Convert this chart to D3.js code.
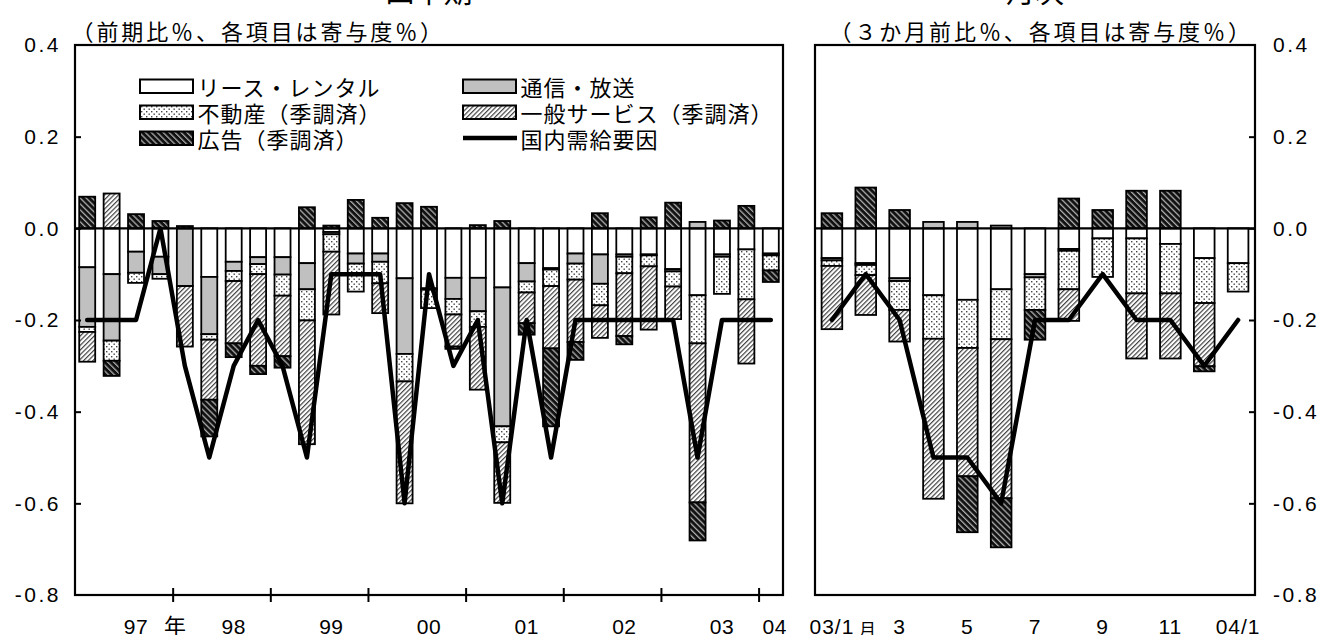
<!DOCTYPE html>
<html><head><meta charset="utf-8">
<script src="https://cdn.jsdelivr.net/npm/d3@7"></script>
<style>
body{margin:0;background:#fff;}
svg{display:block;}
text{font-family:"Noto Sans CJK JP","Noto Sans",sans-serif;fill:#000;}
</style></head><body>
<svg id="chart" width="1322" height="635"></svg>
<script>
// ---------- data ----------
const seriesKeys = ["lease","telecom","realestate","general","ads"];
const seriesNames = ["リース・レンタル","通信・放送","不動産（季調済）","一般サービス（季調済）","広告（季調済）"];
const lineName = "国内需給要因";

const quarterCats = ["97Q1","97Q2","97Q3","97Q4","98Q1","98Q2","98Q3","98Q4","99Q1","99Q2","99Q3","99Q4",
  "00Q1","00Q2","00Q3","00Q4","01Q1","01Q2","01Q3","01Q4","02Q1","02Q2","02Q3","02Q4","03Q1","03Q2","03Q3","03Q4","04Q1"];
const qLease      = [-0.085,-0.100,-0.051,-0.062, 0.000,-0.106,-0.073,-0.063,-0.063,-0.076,-0.008,-0.055,-0.055,-0.109,-0.131,-0.108,-0.108,-0.129,-0.076,-0.087,-0.055,-0.057,-0.057,-0.057,-0.089,-0.146,-0.057,-0.046,-0.055];
const qTelecom    = [-0.130,-0.145,-0.046,-0.038,-0.126,-0.125,-0.020,-0.015,-0.038,-0.057,-0.005,-0.022,-0.018,-0.165,-0.003,-0.046,-0.073,-0.303,-0.040,-0.003,-0.022,-0.064,-0.005,-0.002,-0.005, 0.014,-0.005, 0.000,-0.004];
const qRealEstate = [-0.011,-0.044,-0.022,-0.010, 0.000,-0.012,-0.022,-0.022,-0.046,-0.068,-0.038,-0.061,-0.047,-0.060,-0.040,-0.034,-0.034,-0.035,-0.024,-0.036,-0.035,-0.047,-0.036,-0.024,-0.033,-0.105,-0.081,-0.109,-0.033];
const qGeneral    = [-0.065, 0.076, 0.000, 0.000,-0.132,-0.131,-0.136,-0.200,-0.132,-0.270,-0.137, 0.000,-0.065,-0.266, 0.000,-0.070,-0.137,-0.132,-0.067,-0.136,-0.136,-0.071,-0.137,-0.138,-0.071,-0.347, 0.000,-0.140, 0.000];
const qAds        = [ 0.069,-0.033, 0.031, 0.016, 0.005,-0.080,-0.030,-0.018,-0.025, 0.046, 0.006, 0.062, 0.023, 0.055, 0.047,-0.005, 0.007, 0.016,-0.025,-0.170,-0.039, 0.033,-0.018, 0.024, 0.056,-0.083, 0.017, 0.049,-0.025];
const qLine       = [-0.2,-0.2,-0.2,0.0,-0.3,-0.5,-0.3,-0.2,-0.3,-0.5,-0.1,-0.1,-0.1,-0.6,-0.1,-0.3,-0.2,-0.6,-0.2,-0.5,-0.2,-0.2,-0.2,-0.2,-0.2,-0.5,-0.2,-0.2,-0.2];

const monthCats = ["03/1","03/2","03/3","03/4","03/5","03/6","03/7","03/8","03/9","03/10","03/11","03/12","04/1"];
const mLease      = [-0.065,-0.076,-0.109,-0.146,-0.156,-0.133,-0.100,-0.045,-0.022,-0.022,-0.034,-0.065,-0.076];
const mTelecom    = [-0.005,-0.004,-0.006, 0.014, 0.014, 0.006,-0.007,-0.004, 0.000, 0.000, 0.000, 0.000, 0.000];
const mRealEstate = [-0.012,-0.022,-0.063,-0.095,-0.105,-0.109,-0.071,-0.084,-0.084,-0.120,-0.108,-0.098,-0.062];
const mGeneral    = [-0.138,-0.087,-0.069,-0.349,-0.280,-0.347, 0.000,-0.069, 0.000,-0.142,-0.142,-0.138, 0.000];
const mAds        = [ 0.033, 0.089, 0.040, 0.000,-0.122,-0.107,-0.065, 0.065, 0.040, 0.082, 0.082,-0.011, 0.000];
const mLine       = [-0.2,-0.1,-0.2,-0.5,-0.5,-0.6,-0.2,-0.2,-0.1,-0.2,-0.2,-0.3,-0.2];

const yTickVals = [0.4,0.2,0.0,-0.2,-0.4,-0.6,-0.8];
const qTickCats = ["97Q3","98Q3","99Q3","00Q3","01Q3","02Q3","03Q3","04Q1"];
const qTickLabels = ["97","98","99","00","01","02","03","04"];
const qBoundaryCats = ["98Q1","99Q1","00Q1","01Q1","02Q1","03Q1","04Q1"];
const mTickCats = ["03/1","03/3","03/5","03/7","03/9","03/11","04/1"];
const mTickLabels = ["03/1","3","5","7","9","11","04/1"];
const titleQ = "四半期", titleM = "月次";
const subQ = "（前期比％、各項目は寄与度％）", subM = "（３か月前比％、各項目は寄与度％）";

// ---------- setup ----------
const svg = d3.select("#chart");
const defs = svg.append("defs");
function hatch(id, w, angle, bg, fg, sw){
  const p = defs.append("pattern").attr("id",id).attr("width",w).attr("height",w)
    .attr("patternUnits","userSpaceOnUse").attr("patternTransform",`rotate(${angle})`);
  p.append("rect").attr("width",w).attr("height",w).attr("fill",bg);
  p.append("rect").attr("width",sw).attr("height",w).attr("fill",fg);
}
hatch("pGen", 3.3, 45, "#fff", "#444", 1.2);
hatch("pAds", 4.2, -45, "#111", "#aaa", 1.3);
const pd = defs.append("pattern").attr("id","pDots").attr("width",5).attr("height",5).attr("patternUnits","userSpaceOnUse");
pd.append("rect").attr("width",5).attr("height",5).attr("fill","#fff");
pd.append("rect").attr("x",1).attr("y",1).attr("width",1.4).attr("height",1.4).attr("fill","#444");
pd.append("rect").attr("x",3.5).attr("y",3.5).attr("width",1.4).attr("height",1.4).attr("fill","#444");

const fills = {lease:"#fff", telecom:"#c0c0c0", realestate:"url(#pDots)", general:"url(#pGen)", ads:"url(#pAds)"};

const plotTop = 45, plotBottom = 595;
const y = d3.scaleLinear().domain([-0.8,0.4]).range([plotBottom, plotTop]);
const fmt = d => d.toFixed(1);
const NUMFONT = "'Liberation Sans',Arial,sans-serif";

function drawPanel(cats, vals, lineVals, x0, x1, pad){
  const x = d3.scaleBand().domain(cats).range([x0,x1]).paddingInner(pad).paddingOuter(pad/2);
  const rows = cats.map((c,i)=>{ const r={cat:c}; seriesKeys.forEach((k,j)=>r[k]=vals[j][i]); return r; });
  const stacked = d3.stack().keys(seriesKeys).offset(d3.stackOffsetDiverging)(rows);
  const g = svg.append("g");
  g.selectAll("g.s").data(stacked).join("g").attr("class","s").attr("fill",d=>fills[d.key])
    .selectAll("rect").data(d=>d.filter(e=>e[0]!==e[1])).join("rect")
    .attr("x",d=>x(d.data.cat)).attr("width",x.bandwidth())
    .attr("y",d=>y(Math.max(d[0],d[1]))).attr("height",d=>Math.abs(y(d[0])-y(d[1])))
    .attr("stroke","#000").attr("stroke-width",1.8);
  svg.append("line").attr("x1",x0).attr("x2",x1).attr("y1",y(0)).attr("y2",y(0))
    .attr("stroke","#000").attr("stroke-width",2.2);
  const line = d3.line().x((d,i)=>x(cats[i])+x.bandwidth()/2).y(d=>y(d));
  svg.append("path").datum(lineVals).attr("d",line).attr("fill","none")
    .attr("stroke","#000").attr("stroke-width",4.5).attr("stroke-linejoin","round").attr("stroke-linecap","round");
  svg.append("rect").attr("x",x0).attr("y",plotTop).attr("width",x1-x0).attr("height",plotBottom-plotTop)
    .attr("fill","none").attr("stroke","#000").attr("stroke-width",2.2);
  return x;
}

const xq = drawPanel(quarterCats, [qLease,qTelecom,qRealEstate,qGeneral,qAds], qLine, 75, 783, 0.345);
const xm = drawPanel(monthCats, [mLease,mTelecom,mRealEstate,mGeneral,mAds], mLine, 815, 1255, 0.39);

// ---------- y axes ----------
const yInner = yTickVals.filter(v=>v<0.4 && v>-0.8);
function styleNums(sel, size, ls){
  sel.attr("font-size",size).attr("letter-spacing",ls).attr("fill","#000")
     .attr("font-family",null).style("font-family",NUMFONT);
}
svg.append("g").attr("transform","translate(75,0)")
  .call(d3.axisRight(y).tickValues(yInner).tickSize(6).tickFormat(""))
  .call(g=>g.select(".domain").remove())
  .selectAll("line").attr("stroke","#000").attr("stroke-width",2);
svg.append("g").attr("transform","translate(75,0)")
  .call(d3.axisLeft(y).tickValues(yTickVals).tickSize(0).tickPadding(14).tickFormat(fmt))
  .call(g=>g.select(".domain").remove())
  .call(g=>g.attr("font-family",null).attr("font-size",null))
  .selectAll("text").call(styleNums,21,2.5);
svg.append("g").attr("transform","translate(1255,0)")
  .call(d3.axisLeft(y).tickValues(yInner).tickSize(6).tickFormat(""))
  .call(g=>g.select(".domain").remove())
  .selectAll("line").attr("stroke","#000").attr("stroke-width",2);
svg.append("g").attr("transform","translate(1255,0)")
  .call(d3.axisRight(y).tickValues(yTickVals).tickSize(0).tickPadding(18).tickFormat(fmt))
  .call(g=>g.select(".domain").remove())
  .call(g=>g.attr("font-family",null).attr("font-size",null))
  .selectAll("text").call(styleNums,21,2.5);

// ---------- x axes ----------
const bpos = c => xq(c) - xq.step()*xq.paddingInner()/2;
const qTickScale = d3.scalePoint().domain(qBoundaryCats)
  .range([bpos(qBoundaryCats[0]), bpos(qBoundaryCats[qBoundaryCats.length-1])]);
svg.append("g").attr("transform",`translate(0,${plotBottom})`)
  .call(d3.axisBottom(qTickScale).tickSize(7).tickFormat(""))
  .call(g=>g.select(".domain").remove())
  .selectAll("line").attr("y1",-7).attr("stroke","#000").attr("stroke-width",2);

const labY = 38.5;
const qLab = svg.append("g").attr("transform",`translate(0,${plotBottom})`)
  .call(d3.axisBottom(xq).tickValues(qTickCats).tickSize(0).tickPadding(0)
    .tickFormat((d,i)=>qTickLabels[i]))
  .call(g=>g.select(".domain").remove())
  .call(g=>g.attr("font-family",null).attr("font-size",null));
qLab.selectAll("text").attr("dy",null).attr("y",labY).call(styleNums,21,0.5)
  .attr("dx",(d,i)=> i===qTickCats.length-1 ? 4 : 0);
svg.append("text").attr("x",xq("97Q3")+xq.bandwidth()/2+28).attr("y",plotBottom+labY).attr("font-size",22).text("年");

const mLab = svg.append("g").attr("transform",`translate(0,${plotBottom})`)
  .call(d3.axisBottom(xm).tickValues(mTickCats).tickSize(0).tickPadding(0)
    .tickFormat((d,i)=>mTickLabels[i]))
  .call(g=>g.select(".domain").remove())
  .call(g=>g.attr("font-family",null).attr("font-size",null));
mLab.selectAll("text").attr("dy",null).attr("y",labY).call(styleNums,21,1);
svg.append("text").attr("x",xm("03/1")+xm.bandwidth()/2+27).attr("y",plotBottom+labY+2).attr("font-size",17).text("月");

// ---------- titles ----------
svg.append("text").attr("x",(75+783)/2).attr("y",3).attr("text-anchor","middle").attr("font-size",29).text(titleQ);
svg.append("text").attr("x",(815+1255)/2).attr("y",3).attr("text-anchor","middle").attr("font-size",29).text(titleM);
svg.append("text").attr("x",71.5).attr("y",40).attr("font-size",22).attr("letter-spacing",2.9).text(subQ);
svg.append("text").attr("x",829.5).attr("y",40).attr("font-size",22).attr("letter-spacing",2.9).text(subM);

// ---------- legend ----------
const legItems = seriesKeys.map((k,i)=>({key:k, name:seriesNames[i], idx:i})).concat([{key:"line", name:lineName, idx:5}]);
const colX = [140, 463], rowY = [95.5, 121.5, 147.5];
const leg = svg.append("g");
legItems.forEach(it=>{
  const cx = colX[it.idx%2], by = rowY[Math.floor(it.idx/2)];
  if(it.key==="line"){
    leg.append("line").attr("x1",cx).attr("x2",cx+54).attr("y1",by-9.5).attr("y2",by-9.5)
      .attr("stroke","#000").attr("stroke-width",4.5);
  } else {
    leg.append("rect").attr("x",cx).attr("y",by-16).attr("width",53).attr("height",13.5)
      .attr("fill",fills[it.key]).attr("stroke","#000").attr("stroke-width",2);
  }
  leg.append("text").attr("x",cx+57.5).attr("y",by).attr("font-size",22).attr("letter-spacing",1).text(it.name);
});
</script>
</body></html>
